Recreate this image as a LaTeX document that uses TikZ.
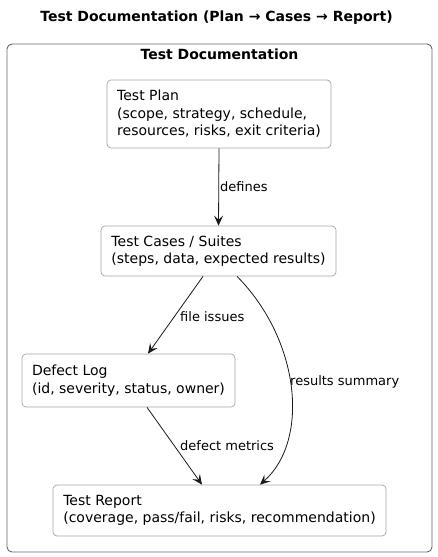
\documentclass[tikz,border=0pt]{standalone}
\usepackage{fontspec}
\setmainfont{DejaVu Sans}
\usetikzlibrary{arrows.meta,calc}
\begin{document}
\begin{tikzpicture}[x=1pt,y=-1pt,
  box/.style={draw=black!35, line width=0.7pt, rounded corners=4pt, fill=white,
    align=left, inner xsep=10pt, inner ysep=0pt, font=\fontsize{14}{17.5}\selectfont, anchor=center},
  conn/.style={draw=black!90, line width=0.8pt, -{Stealth[length=10pt,width=9pt,inset=4pt]}},
  lbl/.style={font=\fontsize{13}{15}\selectfont, anchor=west, inner sep=1pt},
  frame/.style={draw=black!60, line width=0.9pt, rounded corners=5pt}]
\useasboundingbox (0,0) rectangle (437,557);
\node[font=\bfseries\fontsize{14}{17}\selectfont] (title) at (216.5,18) {Test Documentation (Plan → Cases → Report)};
\draw[frame] (7,44) rectangle (432,552);
\node[font=\bfseries\fontsize{14}{17}\selectfont] (ftitle) at (219.5,54) {Test Documentation};
\node[box, minimum width=224pt, minimum height=68pt] (plan) at (219,114)
  {Test Plan\\(scope, strategy, schedule,\\resources, risks, exit criteria)};
\node[box, minimum width=235pt, minimum height=50pt] (cases) at (218.5,251)
  {Test Cases / Suites\\(steps, data, expected results)};
\node[box, minimum width=213pt, minimum height=53pt] (defect) at (128.5,380.5)
  {Defect Log\\(id, severity, status, owner)};
\node[box, minimum width=333pt, minimum height=51pt] (report) at (219.5,510.5)
  {Test Report\\(coverage, pass/fail, risks, recommendation)};
\coordinate (c1) at ($(cases.south)+(-15.5,0)$);
\coordinate (c2) at ($(cases.south)+(18.5,0)$);
\coordinate (d1) at ($(defect.north)+(19.5,0)$);
\coordinate (d2) at ($(defect.south)+(18.5,0)$);
\coordinate (r1) at ($(report.north)+(-17.5,0)$);
\coordinate (r2) at ($(report.north)+(40.5,0)$);
\draw[conn] (plan.south) -- (cases.north);
\node[lbl] (l1) at (219,187) {defines};
\draw[conn] (c1) -- (d1);
\node[lbl] (l2) at (179,317) {file issues};
\draw[conn] (c2) .. controls (300,340) and (310,440) .. (r2);
\node[lbl] (l3) at (289,382) {results summary};
\draw[conn] (d2) -- (r1);
\node[lbl] (l4) at (179,446) {defect metrics};
\end{tikzpicture}
\end{document}
